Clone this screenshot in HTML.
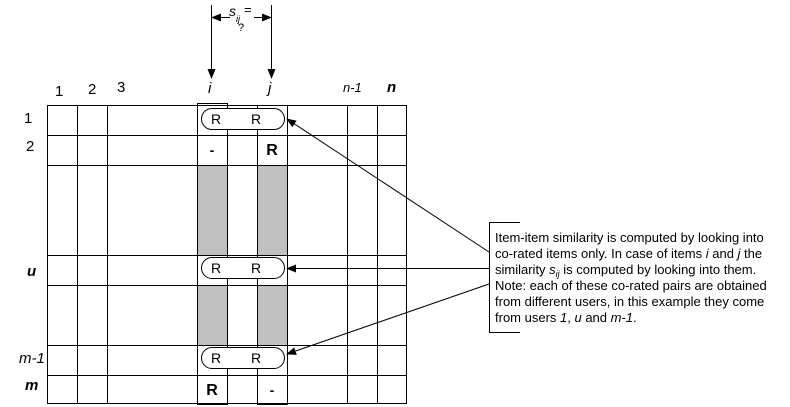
<!DOCTYPE html>
<html><head><meta charset="utf-8"><style>
html,body{margin:0;padding:0;background:#fff;overflow:hidden;}
svg{display:block;font-family:"Liberation Sans",Arial,sans-serif;}
</style></head><body>
<svg width="790" height="407" viewBox="0 0 790 407" xmlns="http://www.w3.org/2000/svg">
<defs>
<marker id="ah" markerWidth="10" markerHeight="8" refX="9" refY="4" orient="auto" markerUnits="userSpaceOnUse">
<path d="M0,0 L10,4 L0,8 Z" fill="#000"/></marker>
</defs>
<rect x="197" y="165" width="30" height="90" fill="#c0c0c0"/>
<rect x="257" y="165" width="30" height="90" fill="#c0c0c0"/>
<rect x="197" y="285" width="30" height="60" fill="#c0c0c0"/>
<rect x="257" y="285" width="30" height="60" fill="#c0c0c0"/>
<g stroke="#000" stroke-width="1" fill="none">
<rect x="47.5" y="105.5" width="359" height="298"/>
<line x1="77.5" y1="105" x2="77.5" y2="404"/>
<line x1="107.5" y1="105" x2="107.5" y2="404"/>
<line x1="197.5" y1="103" x2="197.5" y2="405"/>
<line x1="227.5" y1="103" x2="227.5" y2="405"/>
<line x1="257.5" y1="105" x2="257.5" y2="405"/>
<line x1="287.5" y1="105" x2="287.5" y2="405"/>
<line x1="347.5" y1="105" x2="347.5" y2="404"/>
<line x1="377.5" y1="105" x2="377.5" y2="404"/>
<line x1="197" y1="103.5" x2="228" y2="103.5"/>
<line x1="47" y1="135.5" x2="407" y2="135.5"/>
<line x1="47" y1="165.5" x2="407" y2="165.5"/>
<line x1="47" y1="255.5" x2="407" y2="255.5"/>
<line x1="47" y1="285.5" x2="407" y2="285.5"/>
<line x1="47" y1="345.5" x2="407" y2="345.5"/>
<line x1="47" y1="375.5" x2="407" y2="375.5"/>
<line x1="197" y1="404.5" x2="228" y2="404.5"/>
<line x1="257" y1="404.5" x2="288" y2="404.5"/>
</g>
<g stroke="#000" fill="#fff">
<rect x="201.5" y="108.5" width="83" height="21" rx="10.5"/>
<rect x="201.5" y="257.5" width="83" height="21" rx="10.5"/>
<rect x="201.5" y="347.5" width="83" height="21" rx="10.5"/>
</g>
<g font-size="14" text-anchor="middle">
<text x="216" y="124">R</text><text x="256" y="124">R</text>
<text x="216" y="273">R</text><text x="256" y="273">R</text>
<text x="216" y="363">R</text><text x="256" y="363">R</text>
<text x="212" y="155" font-weight="bold">-</text>
<text x="272" y="155" font-size="16" font-weight="bold">R</text>
<text x="212" y="395" font-size="16" font-weight="bold">R</text>
<text x="272" y="395" font-weight="bold">-</text>
</g>
<g stroke="#000">
<line x1="211.5" y1="5" x2="211.5" y2="78" marker-end="url(#ah)"/>
<line x1="271.5" y1="5" x2="271.5" y2="78" marker-end="url(#ah)"/>
<line x1="230" y1="17.5" x2="212" y2="17.5" marker-end="url(#ah)"/>
<line x1="254" y1="17.5" x2="271" y2="17.5" marker-end="url(#ah)"/>
</g>
<text x="229" y="16" font-size="14" font-style="italic">s</text>
<text x="236" y="22" font-size="9" font-style="italic">ij</text>
<text x="244" y="14" font-size="13">=</text>
<text x="238" y="31" font-size="11">?</text>
<g font-size="15">
<text x="55" y="96">1</text>
<text x="88" y="94">2</text>
<text x="117" y="92">3</text>
<text x="208" y="93" font-style="italic">i</text>
<text x="268" y="93" font-style="italic">j</text>
<text x="343" y="92" font-size="13" font-style="italic">n-1</text>
<text x="387" y="92" font-style="italic" font-weight="bold">n</text>
<text x="24" y="123">1</text>
<text x="26" y="151">2</text>
<text x="27" y="276" font-style="italic" font-weight="bold">u</text>
<text x="19" y="363" font-style="italic">m-1</text>
<text x="25" y="390" font-style="italic" font-weight="bold">m</text>
</g>
<g stroke="#000">
<line x1="489" y1="252" x2="287" y2="119" marker-end="url(#ah)"/>
<line x1="489" y1="268.5" x2="287" y2="268.5" marker-end="url(#ah)"/>
<line x1="489" y1="284" x2="287" y2="354" marker-end="url(#ah)"/>
<polyline points="520,222.5 489.5,222.5 489.5,332.5 520,332.5" fill="none"/>
</g>
<g font-size="13">
<text x="495" y="242">Item-item similarity is computed by looking into</text>
<text x="495" y="258">co-rated items only. In case of items <tspan font-style="italic">i</tspan> and <tspan font-style="italic">j</tspan> the</text>
<text x="495" y="274">similarity <tspan font-style="italic">s</tspan><tspan font-size="9" dy="3" font-style="italic">ij</tspan><tspan dy="-3">  is computed by looking into them.</tspan></text>
<text x="495" y="290">Note: each of these co-rated pairs are obtained</text>
<text x="495" y="306">from different users, in this example they come</text>
<text x="495" y="322">from users <tspan font-style="italic">1</tspan>, <tspan font-style="italic">u</tspan>  and <tspan font-style="italic">m-1</tspan>.</text>
</g>
</svg>
</body></html>
